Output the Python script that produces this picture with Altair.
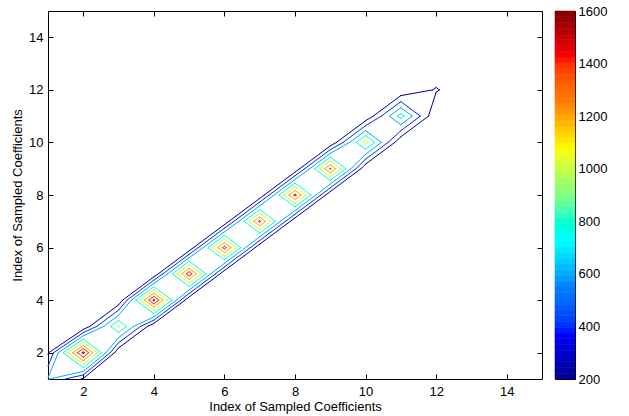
import altair as alt
import numpy as np
import pandas as pd

# ---------------- data ----------------
n_idx = 15
# diagonal values Z(i,i), i = 1..15
diag_vals = [620, 1650, 1030, 1630, 1520, 1480, 1440, 1450, 1420, 1080, 880, 220, 0, 0, 0]
# first off-diagonal values Z(i,i+1) = Z(i+1,i), i = 1..14
off1_vals = [170, 15, 15, 15, 15, 15, 15, 15, 15, 15, 10, 0, 0, 0]
levels = [200, 400, 600, 800, 1000, 1200, 1400, 1600]
axis_ticks = [2, 4, 6, 8, 10, 12, 14]
cbar_ticks = [200, 400, 600, 800, 1000, 1200, 1400, 1600]
clim = [200, 1600]
n_colors = 64
axis_title = "Index of Sampled Coefficients"

Z = np.zeros((n_idx, n_idx))
for i, v in enumerate(diag_vals):
    Z[i, i] = v
for i, v in enumerate(off1_vals):
    Z[i, i + 1] = v
    Z[i + 1, i] = v


def marching(Z, L):
    segs = []
    ny, nx = Z.shape
    edges = [(0, 1), (1, 2), (3, 2), (0, 3)]  # bottom, right, top, left
    for r in range(ny - 1):
        for c in range(nx - 1):
            x0, y0 = c + 1, r + 1
            v00, v10, v11, v01 = Z[r, c], Z[r, c + 1], Z[r + 1, c + 1], Z[r + 1, c]
            corners = [((x0, y0), v00), ((x0 + 1, y0), v10),
                       ((x0 + 1, y0 + 1), v11), ((x0, y0 + 1), v01)]
            pts = {}
            for k, (a, b) in enumerate(edges):
                (pa, va), (pb, vb) = corners[a], corners[b]
                if (va >= L) != (vb >= L):
                    t = (L - va) / (vb - va)
                    pts[k] = (pa[0] + t * (pb[0] - pa[0]), pa[1] + t * (pb[1] - pa[1]))
            if len(pts) == 2:
                k1, k2 = list(pts)
                segs.append((pts[k1], pts[k2]))
            elif len(pts) == 4:
                m = (v00 + v10 + v11 + v01) / 4.0
                if v00 >= L:
                    pairs = [(0, 1), (3, 2)] if m >= L else [(0, 3), (1, 2)]
                else:
                    pairs = [(0, 3), (1, 2)] if m >= L else [(0, 1), (3, 2)]
                for a, b in pairs:
                    segs.append((pts[a], pts[b]))
    return segs


rows = []
for L in levels:
    for (p, q) in marching(Z, L):
        rows.append({"x": p[0], "y": p[1], "x2": q[0], "y2": q[1], "level": L})
seg_df = pd.DataFrame(rows)

# ---------------- styling ----------------
font = "Liberation Sans"
W, H = 494, 368
jet_pos = list(np.linspace(clim[0], clim[1], 9))
jet_colors = ["#000090", "#0000ff", "#0080ff", "#00ffff", "#80ff80",
              "#ffff00", "#ff8000", "#ff0000", "#800000"]
jet = alt.Scale(domain=jet_pos, range=jet_colors, clamp=True)

xs = alt.Scale(domain=[1, 15], nice=False, zero=False)
ys = alt.Scale(domain=[1, 15], nice=False, zero=False)

contours = alt.Chart(seg_df).mark_rule(strokeWidth=1, strokeCap="round").encode(
    x=alt.X("x:Q", scale=xs, axis=alt.Axis(
        orient="bottom", values=axis_ticks, title=axis_title, ticks=False, tickSize=0,
        domain=False, labelPadding=6, titlePadding=2, labelFlush=False, format="d")),
    y=alt.Y("y:Q", scale=ys, axis=alt.Axis(
        orient="left", values=axis_ticks, title=axis_title, ticks=False, tickSize=0,
        domain=False, labelPadding=5, titlePadding=4, labelFlush=False, format="d")),
    x2="x2:Q",
    y2="y2:Q",
    color=alt.Color("level:Q", scale=jet, legend=None),
)

tick_df = pd.DataFrame({"t": axis_ticks})


def tick_axis(orient, vals, size=5):
    return alt.Axis(orient=orient, values=vals, offset=-size, tickSize=size, ticks=True,
                    labels=False, domain=False, title=None, grid=False,
                    tickColor="black", tickWidth=1)


ticks_bl = alt.Chart(tick_df).mark_point(opacity=0).encode(
    x=alt.X("t:Q", scale=xs, axis=tick_axis("bottom", axis_ticks)),
    y=alt.Y("t:Q", scale=ys, axis=tick_axis("left", axis_ticks)),
)
ticks_tr = alt.Chart(tick_df).mark_point(opacity=0).encode(
    x=alt.X("t:Q", scale=xs, axis=tick_axis("top", axis_ticks)),
    y=alt.Y("t:Q", scale=ys, axis=tick_axis("right", axis_ticks)),
)

main = alt.layer(contours, ticks_bl, ticks_tr).resolve_axis(
    x="independent", y="independent").properties(width=W, height=H)

# colorbar
edges = np.linspace(clim[0], clim[1], n_colors + 1)
cb_df = pd.DataFrame({"lo": edges[:-1], "hi": edges[1:], "mid": (edges[:-1] + edges[1:]) / 2,
                      "a": 0.0, "b": 1.0})
cb_scale = alt.Scale(domain=clim, nice=False, zero=False)
cbx = alt.Scale(domain=[0, 1], nice=False, zero=False)

cbar_rect = alt.Chart(cb_df).mark_rect(strokeWidth=0.6).encode(
    y=alt.Y("lo:Q", scale=cb_scale, axis=alt.Axis(
        orient="right", values=cbar_ticks, ticks=False, tickSize=0, domain=False,
        labelPadding=3, title=None, labelFlush=False, format="d")),
    y2="hi:Q",
    x=alt.X("a:Q", scale=cbx, axis=None),
    x2="b:Q",
    color=alt.Color("mid:Q", scale=jet, legend=None),
    stroke=alt.Stroke("mid:Q", scale=jet, legend=None),
)
cb_tick_df = pd.DataFrame({"t": cbar_ticks, "a": 0.5})
cbar_ticks_layer = alt.Chart(cb_tick_df).mark_point(opacity=0).encode(
    x=alt.X("a:Q", scale=cbx, axis=None),
    y=alt.Y("t:Q", scale=cb_scale, axis=tick_axis("right", cbar_ticks, 4)),
)
cbar = alt.layer(cbar_rect, cbar_ticks_layer).resolve_axis(y="independent").properties(
    width=20, height=H)

chart = alt.hconcat(main, cbar, spacing=13, bounds="flush").properties(
    padding={"left": 11, "top": 4, "right": 5, "bottom": 5},
    background="white",
).configure_view(
    stroke="black", strokeWidth=1
).configure_axis(
    labelFont=font, titleFont=font, labelFontSize=13, titleFontSize=13,
    titleFontWeight="normal", labelColor="black", titleColor="black", grid=False,
)

chart.save("out.html", embed_options={"renderer": "svg", "actions": False})
